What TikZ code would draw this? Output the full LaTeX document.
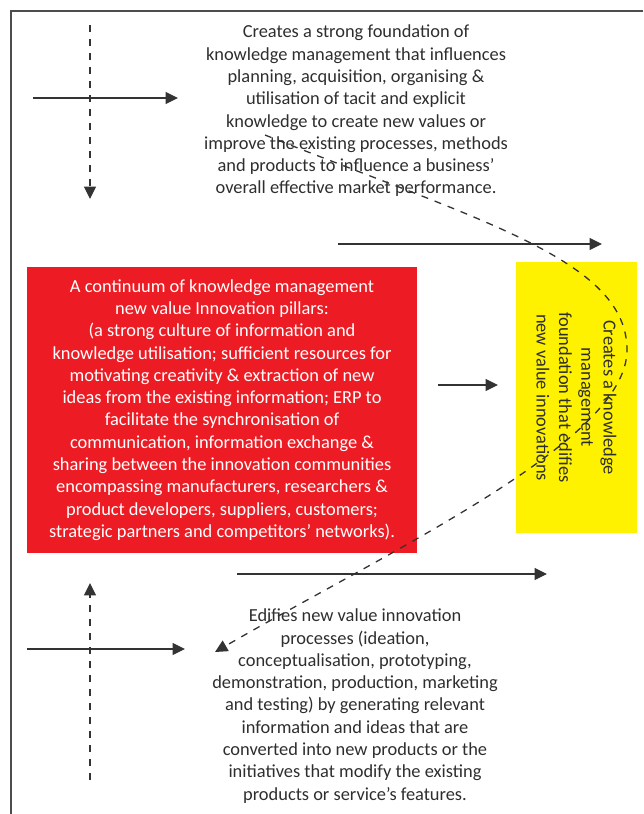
\documentclass[tikz,border=0pt]{standalone}
\usepackage{fontspec}
\setmainfont{Carlito}
\usetikzlibrary{arrows.meta}
\definecolor{pillarred}{HTML}{ED1C24}
\definecolor{edifyellow}{HTML}{FFF200}
\definecolor{inkgrey}{HTML}{2E2E2E}

\begin{document}
\begin{tikzpicture}[
		x=0.5pt, y=-0.5pt,
		every node/.style={font=\fontsize{9.2}{11.15}\selectfont, text=inkgrey, align=center, inner sep=0pt},
		note/.style={},
		pillar/.style={fill=pillarred, text=white, minimum width=195pt, minimum height=143pt},
		edify/.style={fill=edifyellow, rotate=-90, minimum width=135.5pt, minimum height=60.5pt},
		flow/.style={draw=black!80, line width=0.65pt, -{Triangle[length=6.2pt,width=6pt]}},
		cross/.style={flow, dash pattern=on 3.5pt off 3.5pt},
	]
		\useasboundingbox (0,0) rectangle (643,814);
		\draw[black!70, line width=0.65pt] (643,11) -- (11,11) -- (11,814);

		\node [note] (found) at (356,111) {Creates a strong foundation of\\ knowledge management that influences\\ planning, acquisition, organising \&\\ utilisation of tacit and explicit\\ knowledge to create new values or\\ improve the existing processes, methods\\ and products to influence a business’\\ overall effective market performance.};
		\node [pillar] (pillars) at (222,410) {A continuum of knowledge management\\ new value Innovation pillars:\\ (a strong culture of information and\\ knowledge utilisation; sufficient resources for\\ motivating creativity \& extraction of new\\ ideas from the existing information; ERP to\\ facilitate the synchronisation of\\ communication, information exchange \&\\ sharing between the innovation communities\\ encompassing manufacturers, researchers \&\\ product developers, suppliers, customers;\\ strategic partners and competitors’ networks).};
		\node [edify] (edifies) at (576.5,397.5) {Creates a knowledge\\ management\\ foundation that edifies\\ new value innovations};
		\node [note] (process) at (355,706) {Edifies new value innovation\\ processes (ideation,\\ conceptualisation, prototyping,\\ demonstration, production, marketing\\ and testing) by generating relevant\\ information and ideas that are\\ converted into new products or the\\ initiatives that modify the existing\\ products or service’s features.};

		\coordinate (top west) at (33,98);
		\coordinate (top east) at (178,98);
		\coordinate (top north) at (90,25);
		\coordinate (top south) at (90,199);
		\coordinate (gap a) at (338,244);
		\coordinate (gap b) at (602,244);
		\coordinate (mid a) at (438,385);
		\coordinate (mid b) at (498,385);
		\coordinate (low a) at (237,574);
		\coordinate (low b) at (547,574);
		\coordinate (bot west) at (27,649);
		\coordinate (bot east) at (185,649);
		\coordinate (bot south) at (90,780);
		\coordinate (bot north) at (90,583);
		\coordinate (loop start) at (265,135);
		\coordinate (loop turn) at (627,350);
		\coordinate (loop end) at (215,652);

		\draw[flow] (top west) -- (top east);
		\draw[cross] (top north) -- (top south);
		\draw[flow] (gap a) -- (gap b);
		\draw[flow] (mid a) -- (mid b);
		\draw[flow] (low a) -- (low b);
		\draw[flow] (bot west) -- (bot east);
		\draw[cross] (bot south) -- (bot north);
		\draw[cross] (loop start) .. controls (480,221) and (627,260) .. (loop turn) .. controls (627,440) and (400,545) .. (loop end);
	\end{tikzpicture}
\end{document}
